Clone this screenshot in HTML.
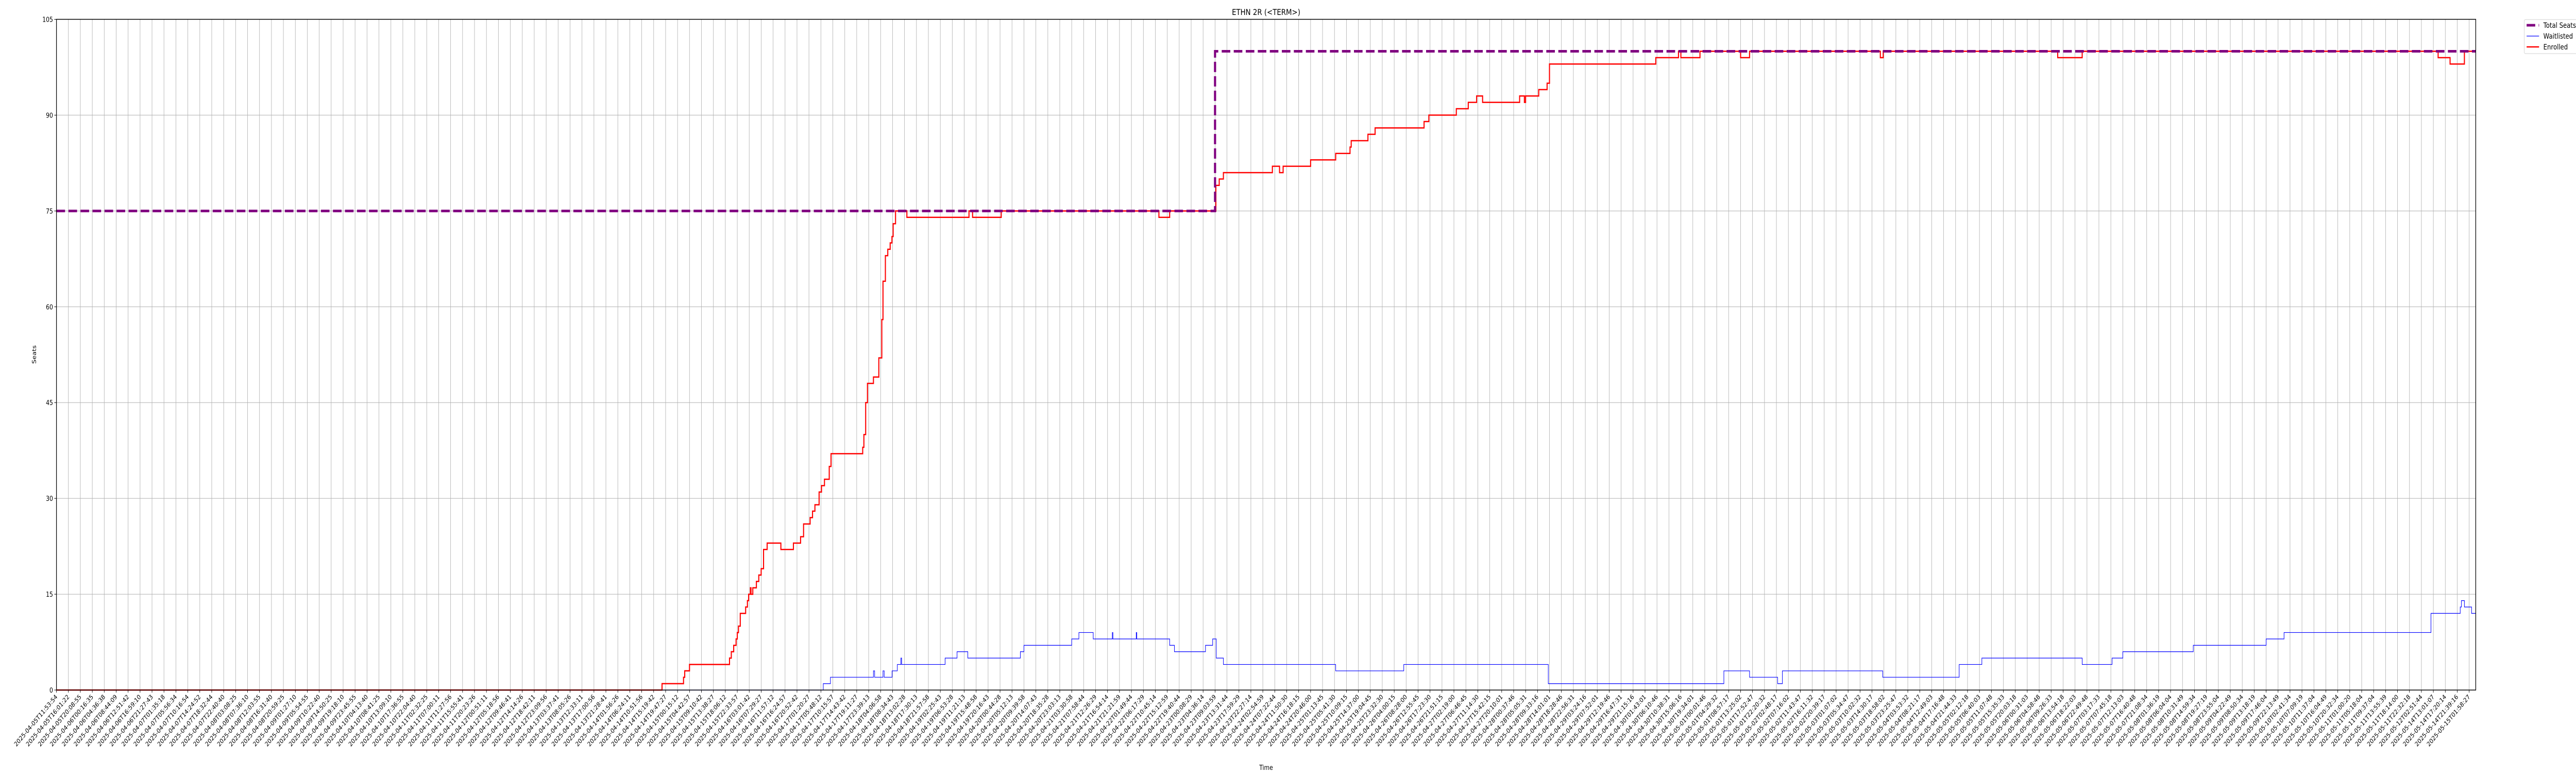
<!DOCTYPE html>
<html><head><meta charset="utf-8"><meta name="viewport" content="width=6000, initial-scale=1">
<style>
html,body{margin:0;padding:0;background:#fff;width:100%;height:100%;overflow:hidden;}
svg{display:block;overflow:hidden;width:100vw;height:100vh;font-family:"DejaVu Sans","Liberation Sans",sans-serif;}
</style></head>
<body>
<svg id="chart" viewBox="0 0 6000 1500" preserveAspectRatio="none" xmlns="http://www.w3.org/2000/svg">
<rect x="0" y="0" width="6000" height="1500" fill="#fff"/>
<g id="grid"></g>
<g id="series"></g>
<g id="axes"></g>
<text x="2949" y="29" text-anchor="middle" font-size="16">ETHN 2R (&lt;TERM&gt;)</text>
<text x="2949" y="1494" text-anchor="middle" font-size="13">Time</text>
<text transform="translate(84,688) rotate(-90)" text-anchor="middle" font-size="13">Seats</text>
<g>
<rect x="5879.5" y="38" width="130" height="66" rx="3" fill="#fff" stroke="#d0d0d0" stroke-width="1"/>
<g><line x1="5885" y1="49" x2="5914" y2="49" stroke="#800080" stroke-width="5" stroke-dasharray="20,8"/><text x="5924" y="54" font-size="14">Total Seats</text></g>
<g><line x1="5885" y1="70" x2="5914" y2="70" stroke="#0000ff" stroke-width="1.2"/><text x="5924" y="75" font-size="14">Waitlisted</text></g>
<g><line x1="5885" y1="91" x2="5914" y2="91" stroke="#ff0000" stroke-width="2.5"/><text x="5924" y="96" font-size="14">Enrolled</text></g>
</g>
</svg>
<script>
var totalX = [0, 97.0];
var totalY = [75, 100];
var enrolledX = [0,50.7,52.5,52.6,53.0,56.35,56.5,56.7,56.9,57.0,57.1,57.25,57.7,57.85,57.95,58.1,58.15,58.3,58.6,58.8,59.0,59.2,59.5,60.65,61.7,62.3,62.55,63.1,63.3,63.5,63.85,64.05,64.3,64.7,64.85,67.5,67.6,67.75,67.9,68.4,68.85,69.1,69.2,69.4,69.6,69.8,69.95,70.05,70.25,71.2,76.4,76.7,79.1,92.3,93.2,97.07,97.35,97.7,101.8,102.4,102.7,105.0,107.1,108.3,108.4,109.8,110.4,114.5,114.9,117.2,118.2,118.9,119.4,122.5,122.9,123.0,124.1,124.8,125.0,133.9,135.8,136.0,137.6,141.0,141.75,152.7,152.94,167.55,169.6,199.4,200.4,201.6];
var enrolledY = [0,1,2,3,4,5,6,7,8,9,10,12,13,14,15,16,15,16,17,18,19,22,23,22,23,24,26,27,28,29,31,32,33,35,37,38,40,45,48,49,52,58,64,68,69,70,71,73,75,74,75,74,75,74,75,79,80,81,82,81,82,83,84,85,86,87,88,89,90,91,92,93,92,93,92,93,94,95,98,99,100,99,100,99,100,99,100,99,100,99,98,100];
var waitX = [0,64.2,64.8,68.4,68.5,69.2,69.3,69.96,70.4,70.7,70.76,74.4,75.4,76.3,80.7,81.0,85.0,85.6,86.8,88.4,88.45,90.4,90.45,93.2,93.6,96.2,96.8,97.1,97.7,107.1,112.8,124.9,139.6,141.75,144.1,144.5,152.9,159.3,161.2,169.6,172.1,173.0,178.9,185.0,186.5,198.8,201.25,201.35,201.6,202.2];
var waitY = [0,1,2,3,2,3,2,3,4,5,4,5,6,5,6,7,8,9,8,9,8,9,8,7,6,7,8,5,4,3,4,1,3,2,1,3,2,4,5,4,5,6,7,8,9,12,13,14,13,12];
var yTicks = [0,15,30,45,60,75,90,105];
var startLabels = ["2025-04-05T11:53:54","2025-04-05T16:01:22","2025-04-05T20:08:55","2025-04-06T00:16:35","2025-04-06T04:36:38","2025-04-06T08:44:09","2025-04-06T12:51:42","2025-04-06T16:59:10","2025-04-06T21:27:43","2025-04-07T01:35:18","2025-04-07T05:56:34","2025-04-07T10:16:54","2025-04-07T14:24:52","2025-04-07T18:32:44","2025-04-07T22:40:40"];
var endLabels = ["2025-05-11T01:00:20","2025-05-11T05:18:04","2025-05-11T09:37:04","2025-05-11T13:55:39","2025-05-11T18:14:00","2025-05-11T22:32:18","2025-05-12T02:51:44","2025-05-14T13:01:07","2025-05-14T17:20:14","2025-05-14T21:39:16","2025-05-15T01:58:27"];
var tickCount = 203;
var xMax = 202.55, yMax = 105;

var L = 131.5, R = 5766.5, T = 37.5, B = 1339;
function xs(u){ return L + u / xMax * (R - L); }
function ys(v){ return B - v / yMax * (B - T); }
var NS = "http://www.w3.org/2000/svg";
function mk(tag, attrs){ var e = document.createElementNS(NS, tag); for (var k in attrs) e.setAttribute(k, attrs[k]); return e; }
function pad(n){ return (n < 10 ? "0" : "") + n; }
function fmt(d){ return d.getUTCFullYear()+"-"+pad(d.getUTCMonth()+1)+"-"+pad(d.getUTCDate())+"T"+pad(d.getUTCHours())+":"+pad(d.getUTCMinutes())+":"+pad(d.getUTCSeconds()); }

var labels = startLabels.slice();
var t0 = Date.parse(startLabels[startLabels.length-1]+"Z"), t1 = Date.parse(endLabels[0]+"Z");
var midCount = tickCount - startLabels.length - endLabels.length;
for (var i = 1; i <= midCount; i++) labels.push(fmt(new Date(t0 + (t1 - t0) * i / (midCount + 1))));
labels = labels.concat(endLabels);

var grid = document.getElementById("grid"), axes = document.getElementById("axes"), series = document.getElementById("series");
for (var i = 0; i < tickCount; i++) {
  var x = xs(i);
  var gl = mk("line", {x1:x, y1:T, x2:x, y2:B, stroke:"#b0b0b0", "stroke-width":1});
  
  
  grid.appendChild(gl);
  var tk = mk("line", {x1:x, y1:B, x2:x, y2:B+5, stroke:"#000", "stroke-width":1});
  
  
  axes.appendChild(tk);
  var tx = mk("text", {transform:"translate("+(x+3)+","+(B+14)+") rotate(-45)", "text-anchor":"end", "font-size":"12.5", fill:"#000"});
  tx.textContent = labels[i];
  
  
  axes.appendChild(tx);
}
yTicks.forEach(function(v){
  var y = ys(v);
  var gl = mk("line", {x1:L, y1:y, x2:R, y2:y, stroke:"#b0b0b0", "stroke-width":1});
  
  
  grid.appendChild(gl);
  var tk = mk("line", {x1:L-5, y1:y, x2:L, y2:y, stroke:"#000", "stroke-width":1});
  
  
  axes.appendChild(tk);
  var tx = mk("text", {x:L-8, y:y+5, "text-anchor":"end", "font-size":"13"});
  tx.textContent = v;
  
  
  axes.appendChild(tx);
});
var frame = mk("rect", {x:L, y:T, width:R-L, height:B-T, fill:"none", stroke:"#000", "stroke-width":1.5});


axes.appendChild(frame);

function stepPath(xa, ya){
  var d = "M" + xs(xa[0]).toFixed(2) + "," + ys(ya[0]).toFixed(2);
  for (var i = 1; i < xa.length; i++) {
    d += " L" + xs(xa[i]).toFixed(2) + "," + ys(ya[i-1]).toFixed(2);
    d += " L" + xs(xa[i]).toFixed(2) + "," + ys(ya[i]).toFixed(2);
  }
  d += " L" + xs(xMax).toFixed(2) + "," + ys(ya[ya.length-1]).toFixed(2);
  return d;
}
var pw = mk("path", {d:stepPath(waitX, waitY), fill:"none", stroke:"#0000ff", "stroke-width":1.2});


series.appendChild(pw);
var pe = mk("path", {d:stepPath(enrolledX, enrolledY), fill:"none", stroke:"#ff0000", "stroke-width":2.5});


series.appendChild(pe);
var pt = mk("path", {d:stepPath(totalX, totalY), fill:"none", stroke:"#800080", "stroke-width":5, "stroke-dasharray":"20,8"});


series.appendChild(pt);
</script>
</body></html>
